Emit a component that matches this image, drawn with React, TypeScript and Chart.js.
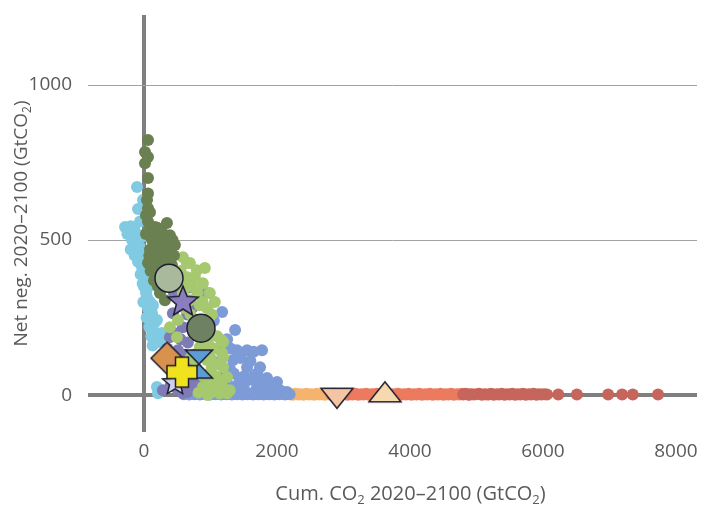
import React, { useEffect, useRef } from "react";
import { Chart, registerables } from "chart.js";

Chart.register(...registerables);

const FONT = "'Open Sans', 'Noto Sans', sans-serif";
const TEXT_COLOR = "#5a5a5a";

const xTickValues = [0, 2000, 4000, 6000, 8000];
const yTickValues = [0, 500, 1000];

const cyanSeries: [number, number][] = [
  [-105, 671], [-15, 629], [-285, 542], [-135, 523], [-180, 500], [-60, 477], [-15, 452],
  [-30, 413], [15, 381], [60, 348], [45, 316], [135, 290], [120, 264], [195, 242],
  [165, 200], [240, 171], [270, 200], [195, 26], [210, 6], [-60, 560], [-230, 530],
  [-120, 480], [0, 350], [90, 300], [60, 280], [150, 230], [-90, 600], [30, 440],
  [-250, 520], [-200, 545], [-150, 540], [-100, 520], [-200, 470], [-140, 450], [-90, 430],
  [-50, 390], [-20, 360], [30, 330], [-10, 300], [40, 250], [80, 220], [110, 190],
  [130, 160], [90, 260], [20, 400], [-40, 510],
];

const blueSeries: [number, number][] = [
  [945, 329], [1175, 268], [1370, 210], [1550, 145], [1775, 145], [1400, 145], [1550, 90],
  [1745, 90], [1340, 113], [1640, 58], [1850, 55], [2000, 42], [1440, 48], [1250, 39],
  [1290, 87], [990, 200], [1100, 150], [1200, 60], [1500, 30], [1700, 25], [1900, 20],
  [1050, 240], [1250, 180], [1300, 150], [1450, 120], [1600, 110], [1650, 140], [1500, 60],
  [1350, 70], [1400, 30], [1600, 50], [1750, 45], [1800, 30], [1950, 25], [2050, 15],
  [2150, 10], [1150, 110], [1100, 30], [1300, 20], [1700, 70], [600, 10], [700, 30],
  [800, 60], [520, 100],
  [600, 3], [640, 5], [680, 2], [720, 4], [760, 3], [800, 5], [840, 2], [880, 4],
  [920, 3], [960, 5], [1000, 2], [1040, 4], [1080, 3], [1120, 5], [1160, 2], [1200, 4],
  [1240, 3], [1280, 5], [1320, 2], [1360, 4], [1400, 3], [1440, 5], [1480, 2], [1520, 4],
  [1560, 3], [1600, 5], [1640, 2], [1680, 4], [1720, 3], [1760, 5], [1800, 2], [1840, 4],
  [1880, 3], [1920, 5], [1960, 2], [2000, 4], [2040, 3], [2080, 5], [2120, 2], [2160, 4],
  [2190, 3],
];

const purpleSeries: [number, number][] = [
  [495, 371], [690, 348], [735, 284], [435, 264], [585, 219], [390, 187], [510, 145],
  [390, 113], [690, 90], [435, 48], [735, 26], [585, 6], [285, 16], [660, 170], [800, 40],
  [480, 80], [350, 150], [450, 330], [520, 310], [650, 260], [700, 220], [550, 180],
  [620, 130], [450, 200], [520, 60], [650, 50], [750, 130], [400, 30], [500, 20],
  [650, 10], [820, 12],
];

const greenSeries: [number, number][] = [
  [585, 445], [690, 426], [915, 410], [765, 381], [885, 361], [615, 348], [990, 329],
  [690, 306], [840, 290], [1065, 300], [510, 242], [945, 242], [390, 219], [765, 194],
  [495, 187], [1190, 171], [840, 155], [1175, 135], [945, 113], [1190, 90], [990, 71],
  [1250, 58], [885, 26], [1100, 16], [960, 0], [1250, 6], [1170, 177], [1190, 123],
  [1290, 16], [645, 426], [795, 403], [585, 329], [840, 203], [1050, 40], [900, 60],
  [1000, 120], [820, 8], [550, 400], [650, 380], [720, 350], [800, 330], [880, 300],
  [950, 280], [1020, 260], [700, 260], [620, 280], [760, 240], [880, 230], [1000, 200],
  [1100, 190], [1050, 150], [960, 170], [900, 140], [1120, 100], [1020, 90], [1080, 60],
  [960, 40], [1160, 40], [1200, 20], [1020, 10], [1140, 5], [700, 120], [780, 90],
];

const oliveSeries: [number, number][] = [
  [60, 823], [15, 784], [60, 768], [15, 748], [60, 700], [45, 629], [60, 603], [165, 542],
  [270, 526], [390, 516], [465, 484], [120, 500], [195, 474], [315, 468], [135, 445],
  [60, 426], [240, 426], [345, 413], [165, 393], [195, 361], [240, 329], [315, 306],
  [345, 555], [225, 500], [90, 470], [300, 440], [420, 450], [60, 560], [30, 520],
  [100, 400], [270, 380], [200, 420], [100, 540], [150, 510], [200, 540], [250, 500],
  [330, 500], [280, 470], [360, 480], [400, 470], [430, 500], [150, 480], [80, 450],
  [200, 450], [260, 450], [330, 430], [380, 430], [120, 420], [180, 400], [230, 390],
  [300, 400], [150, 370], [210, 350], [260, 345], [60, 650], [30, 580], [90, 590],
  [420, 420], [450, 450],
];

const orangeSeries: [number, number][] = [
  [2200, 3], [2240, 1], [2280, 4], [2320, 2], [2360, 3], [2400, 1], [2440, 4], [2480, 2],
  [2520, 3], [2560, 1], [2600, 4], [2640, 2], [2680, 3], [2720, 1], [2760, 4], [2790, 2],
];

const salmonSeries: [number, number][] = [
  [2820, 2], [2860, 4], [2900, 1], [2940, 3], [2980, 2], [3020, 4], [3060, 1], [3100, 3],
  [3140, 2], [3180, 4], [3220, 1], [3260, 3], [3300, 2], [3340, 4], [3380, 1], [3420, 3],
  [3460, 2], [3500, 4], [3540, 1], [3580, 3], [3620, 2], [3660, 4], [3700, 1], [3740, 3],
  [3780, 2], [3820, 4], [3860, 1], [3900, 3], [3940, 2], [3980, 4], [4020, 1], [4060, 3],
  [4100, 2], [4140, 4], [4180, 1], [4220, 3], [4260, 2], [4300, 4], [4340, 1], [4380, 3],
  [4420, 2], [4460, 4], [4500, 1], [4540, 3], [4580, 2], [4620, 4], [4660, 1], [4700, 3],
  [4740, 2], [4780, 4], [4900, 2], [5000, 3], [5150, 2],
];

const redSeries: [number, number][] = [
  [4800, 2], [4840, 4], [4880, 1], [4920, 3], [4960, 2], [5040, 4], [5080, 1], [5120, 3],
  [5180, 2], [5220, 4], [5260, 1], [5300, 3], [5340, 2], [5380, 4], [5420, 1], [5460, 3],
  [5500, 2], [5540, 4], [5580, 1], [5620, 3], [5660, 2], [5700, 4], [5740, 1], [5780, 3],
  [5820, 2], [5860, 4], [5900, 1], [5940, 3], [5980, 2], [6020, 3], [6060, 2],
  [6230, 2], [6510, 2], [6980, 2], [7190, 2], [7350, 2], [7730, 2],
];

const lightCircleMarker: [number, number][] = [[376, 377]];
const darkCircleMarker: [number, number][] = [[857, 216]];
const purpleStarMarker: [number, number][] = [[586, 300]];
const diamondMarker: [number, number][] = [[346, 119]];
const hourglassMarker: [number, number][] = [[827, 100]];
const plusMarker: [number, number][] = [[571, 74]];
const paleStarMarker: [number, number][] = [[466, 39]];
const downTriangleMarker: [number, number][] = [[2902, 0]];
const upTriangleMarker: [number, number][] = [[3624, 0]];

const xTitleParts = [
  { t: "Cum. CO" }, { t: "2", sub: true }, { t: " 2020\u20132100 (GtCO" }, { t: "2", sub: true }, { t: ")" },
];
const yTitleParts = [
  { t: "Net neg. 2020\u20132100 (GtCO" }, { t: "2", sub: true }, { t: ")" },
];

const toXY = (arr: [number, number][]) => arr.map(([x, y]) => ({ x, y }));

const OUTLINE = "#1e1e30";

function makeCanvas(size: number, draw: (ctx: CanvasRenderingContext2D, c: number) => void) {
  const cv = document.createElement("canvas");
  cv.width = size;
  cv.height = size;
  const ctx = cv.getContext("2d")!;
  draw(ctx, size / 2);
  return cv;
}

function starPath(ctx: CanvasRenderingContext2D, c: number, R: number, r: number) {
  ctx.beginPath();
  for (let i = 0; i < 10; i++) {
    const rad = i % 2 === 0 ? R : r;
    const a = -Math.PI / 2 + (i * Math.PI) / 5;
    const px = c + rad * Math.cos(a);
    const py = c + rad * Math.sin(a);
    if (i === 0) ctx.moveTo(px, py);
    else ctx.lineTo(px, py);
  }
  ctx.closePath();
}

function fillStroke(ctx: CanvasRenderingContext2D, fill: string) {
  ctx.fillStyle = fill;
  ctx.fill();
  ctx.lineWidth = 1.5;
  ctx.strokeStyle = OUTLINE;
  ctx.lineJoin = "miter";
  ctx.stroke();
}

function drawRich(ctx: CanvasRenderingContext2D, parts: { t: string; sub?: boolean }[], cx: number, cy: number, size: number) {
  const main = `${size}px ${FONT}`;
  const sub = `${Math.round(size * 0.65)}px ${FONT}`;
  let total = 0;
  const widths = parts.map((p) => {
    ctx.font = p.sub ? sub : main;
    const w = ctx.measureText(p.t).width;
    total += w;
    return w;
  });
  let x = cx - total / 2;
  ctx.textBaseline = "middle";
  ctx.textAlign = "left";
  parts.forEach((p, i) => {
    ctx.font = p.sub ? sub : main;
    ctx.fillText(p.t, x, p.sub ? cy + size * 0.3 : cy);
    x += widths[i];
  });
}

const titlePlugin = {
  id: "axisTitles",
  afterDraw(chart: any) {
    const { ctx, chartArea } = chart;
    ctx.save();
    ctx.fillStyle = TEXT_COLOR;
    drawRich(ctx, xTitleParts, (chartArea.left + chartArea.right) / 2 + 18, chart.height - 18, 20);
    ctx.translate(22, (chartArea.top + chartArea.bottom) / 2);
    ctx.rotate(-Math.PI / 2);
    drawRich(ctx, yTitleParts, 0, 0, 19);
    ctx.restore();
  },
};

export default function App() {
  const ref = useRef<HTMLCanvasElement>(null);

  useEffect(() => {
    if (!ref.current) return;

    const starCanvas = makeCanvas(40, (ctx, c) => { starPath(ctx, c, 16, 7); fillStroke(ctx, "#8b7dbf"); });
    const paleStarCanvas = makeCanvas(36, (ctx, c) => { starPath(ctx, c, 13, 5.8); fillStroke(ctx, "#d2cfec"); });
    const plusCanvas = makeCanvas(40, (ctx, c) => {
      const a = 15, t = 6.5;
      ctx.beginPath();
      ctx.moveTo(c - t, c - a); ctx.lineTo(c + t, c - a); ctx.lineTo(c + t, c - t); ctx.lineTo(c + a, c - t);
      ctx.lineTo(c + a, c + t); ctx.lineTo(c + t, c + t); ctx.lineTo(c + t, c + a); ctx.lineTo(c - t, c + a);
      ctx.lineTo(c - t, c + t); ctx.lineTo(c - a, c + t); ctx.lineTo(c - a, c - t); ctx.lineTo(c - t, c - t);
      ctx.closePath();
      fillStroke(ctx, "#f0e21c");
    });
    const diamondCanvas = makeCanvas(40, (ctx, c) => {
      const d = 16;
      ctx.beginPath();
      ctx.moveTo(c, c - d); ctx.lineTo(c + d, c); ctx.lineTo(c, c + d); ctx.lineTo(c - d, c);
      ctx.closePath();
      fillStroke(ctx, "#d9914e");
    });
    const hourglassCanvas = makeCanvas(36, (ctx, c) => {
      const w = 13.5, h = 14;
      ctx.beginPath();
      ctx.moveTo(c - w, c - h); ctx.lineTo(c + w, c - h); ctx.lineTo(c - w, c + h); ctx.lineTo(c + w, c + h);
      ctx.closePath();
      fillStroke(ctx, "#5d9bd6");
    });
    const downTriCanvas = makeCanvas(40, (ctx, c) => {
      const hw = 16, h = 20;
      ctx.beginPath();
      ctx.moveTo(c - hw, c - h / 3); ctx.lineTo(c + hw, c - h / 3); ctx.lineTo(c, c + (2 * h) / 3);
      ctx.closePath();
      fillStroke(ctx, "#f3c5a3");
    });
    const upTriCanvas = makeCanvas(40, (ctx, c) => {
      const hw = 16, h = 20;
      ctx.beginPath();
      ctx.moveTo(c - hw, c + h / 3); ctx.lineTo(c + hw, c + h / 3); ctx.lineTo(c, c - (2 * h) / 3);
      ctx.closePath();
      fillStroke(ctx, "#f7d8af");
    });

    const small = (label: string, data: [number, number][], color: string, order: number) => ({
      label,
      data: toXY(data),
      backgroundColor: color,
      borderWidth: 0,
      pointRadius: 6,
      order,
    });
    const big = (label: string, data: [number, number][], style: any, order: number, extra: any = {}) => ({
      label,
      data: toXY(data),
      pointStyle: style,
      pointRadius: 15,
      order,
      ...extra,
    });

    const chart = new Chart(ref.current, {
      type: "scatter",
      data: {
        datasets: [
          big("plus", plusMarker, plusCanvas, 0),
          big("paleStar", paleStarMarker, paleStarCanvas, 1),
          big("diamond", diamondMarker, diamondCanvas, 2),
          big("hourglass", hourglassMarker, hourglassCanvas, 3),
          big("darkCircle", darkCircleMarker, "circle", 4, { pointRadius: 14, backgroundColor: "#6e8163", borderColor: OUTLINE, borderWidth: 1.5 }),
          big("star", purpleStarMarker, starCanvas, 5),
          big("lightCircle", lightCircleMarker, "circle", 6, { pointRadius: 14, backgroundColor: "#a9b99b", borderColor: OUTLINE, borderWidth: 1.5 }),
          big("downTri", downTriangleMarker, downTriCanvas, 7),
          big("upTri", upTriangleMarker, upTriCanvas, 8),
          small("olive", oliveSeries, "#6b8050", 10),
          small("green", greenSeries, "#a6c86e", 11),
          small("purple", purpleSeries, "#7f7bb6", 12),
          small("blue", blueSeries, "#7d9bd7", 13),
          small("cyan", cyanSeries, "#80cae2", 14),
          small("red", redSeries, "#c6655b", 15),
          small("salmon", salmonSeries, "#eb7a5f", 16),
          small("orange", orangeSeries, "#f5b46e", 17),
        ],
      },
      options: {
        animation: false,
        responsive: false,
        maintainAspectRatio: false,
        events: [],
        layout: { autoPadding: false, padding: { top: 15, right: 5, left: 0, bottom: 0 } },
        plugins: { legend: { display: false }, tooltip: { enabled: false }, title: { display: false } },
        scales: {
          x: {
            type: "linear",
            min: -842,
            max: 8316,
            afterBuildTicks: (scale: any) => { scale.ticks = xTickValues.map((v) => ({ value: v })); },
            afterFit: (scale: any) => {
              scale.height = 80;
              scale.paddingLeft = 0; scale.paddingRight = 0; scale.paddingTop = 0; scale.paddingBottom = 0;
            },
            border: { display: false },
            grid: {
              drawTicks: false,
              color: (ctx: any) => (ctx.tick && ctx.tick.value === 0 ? "#7f7f7f" : "rgba(0,0,0,0)"),
              lineWidth: (ctx: any) => (ctx.tick && ctx.tick.value === 0 ? 4 : 0),
            },
            ticks: {
              padding: 8, color: TEXT_COLOR, font: { family: FONT, size: 19 }, maxRotation: 0,
              callback: (v: any) => String(v),
            },
          },
          y: {
            type: "linear",
            min: -119,
            max: 1226,
            afterBuildTicks: (scale: any) => { scale.ticks = yTickValues.map((v) => ({ value: v })); },
            afterFit: (scale: any) => {
              scale.width = 88;
              scale.paddingLeft = 0; scale.paddingRight = 0; scale.paddingTop = 0; scale.paddingBottom = 0;
            },
            border: { display: false },
            grid: {
              drawTicks: false,
              color: (ctx: any) => (ctx.tick && ctx.tick.value === 0 ? "#7f7f7f" : "#a3a3a3"),
              lineWidth: (ctx: any) => (ctx.tick && ctx.tick.value === 0 ? 4 : 1),
            },
            ticks: { padding: 16, color: TEXT_COLOR, font: { family: FONT, size: 19 }, callback: (v: any) => String(v) },
          },
        },
      },
      plugins: [titlePlugin],
    } as any);

    return () => chart.destroy();
  }, []);

  return (
    <div style={{ position: "fixed", left: 0, top: 0, width: 702, height: 512, background: "#fff" }}>
      <canvas ref={ref} width={702} height={512} style={{ width: 702, height: 512, display: "block" }} />
    </div>
  );
}
